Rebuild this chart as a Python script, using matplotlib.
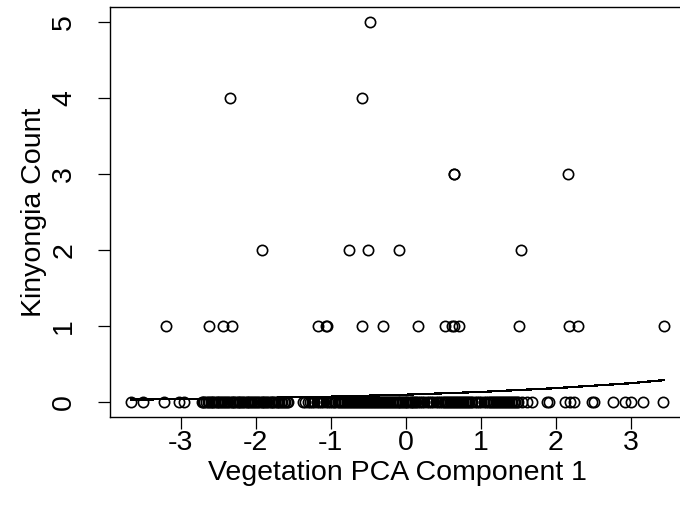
import numpy as np
import matplotlib
matplotlib.use("Agg")
import matplotlib.pyplot as plt

# Vegetation PCA component 1 scores, grouped by observed Kinyongia count
pc1_count0 = [
    -3.66, -3.51, -3.22, -3.02, -2.96,
    -2.72, -2.70, -2.69, -2.66, -2.64, -2.63, -2.60, -2.58, -2.57, -2.55,
    -2.52, -2.51, -2.49, -2.46, -2.45, -2.43, -2.41, -2.38, -2.37, -2.35,
    -2.32, -2.31, -2.29, -2.27, -2.24, -2.23, -2.21, -2.18, -2.17, -2.15,
    -2.12, -2.11, -2.09, -2.06, -2.05, -2.03, -2.01, -1.98, -1.97, -1.95,
    -1.92, -1.91, -1.89, -1.86, -1.85, -1.83, -1.80, -1.79, -1.77, -1.75,
    -1.72, -1.71, -1.69, -1.66, -1.65, -1.63, -1.61, -1.59, -1.57,
    -1.37, -1.34, -1.31, -1.28, -1.25, -1.22, -1.19, -1.16, -1.13, -1.10,
    -1.07, -1.04, -1.01, -0.98, -0.96, -0.94, -0.91, -0.89, -0.87, -0.85,
    -0.83, -0.81, -0.79, -0.77, -0.745, -0.73, -0.71, -0.69, -0.67, -0.655,
    -0.63, -0.61, -0.59, -0.57, -0.55, -0.535, -0.51, -0.49, -0.47, -0.45,
    -0.43, -0.415, -0.39, -0.37, -0.35, -0.33, -0.31, -0.295, -0.27, -0.25,
    -0.23, -0.21, -0.19, -0.175, -0.15, -0.13, -0.11, -0.09, -0.07, -0.055,
    -0.03, -0.01, 0.01, 0.02, 0.04, 0.065, 0.08, 0.10, 0.12, 0.14,
    0.16, 0.19, 0.22, 0.25, 0.28, 0.31, 0.34, 0.37, 0.40, 0.43,
    0.46, 0.49, 0.51, 0.53, 0.555, 0.57, 0.59, 0.61, 0.63, 0.645,
    0.67, 0.69, 0.71, 0.73, 0.75, 0.765, 0.79, 0.81, 0.83, 0.85,
    0.87, 0.89, 0.92, 0.95, 0.98, 1.01, 1.04, 1.07, 1.10, 1.12,
    1.14, 1.16, 1.18, 1.205, 1.22, 1.24, 1.26, 1.28, 1.30, 1.325,
    1.34, 1.36, 1.38, 1.40, 1.42, 1.445, 1.46, 1.48, 1.50,
    1.55, 1.62, 1.68, 1.89, 1.91, 2.12, 2.19, 2.25, 2.49, 2.51,
    2.76, 2.92, 3.01, 3.16, 3.43]
pc1_count1 = [-3.20, -2.63, -2.44, -2.32, -1.17, -1.07, -1.05, -0.58, -0.30,
              0.16, 0.52, 0.62, 0.64, 0.71, 1.51, 2.18, 2.30, 3.44]
pc1_count2 = [-1.92, -0.76, -0.50, -0.09, 1.54]
pc1_count3 = [0.64, 0.65, 2.17]
pc1_count4 = [-2.34, -0.58]
pc1_count5 = [-0.48]

# fitted mean count along PC1
fit_x = [-3.66, -3.0, -2.0, -1.0, 0.0, 1.0, 2.0, 3.0, 3.44]
fit_y = [0.029, 0.036, 0.050, 0.068, 0.094, 0.130, 0.180, 0.245, 0.285]

groups = [pc1_count0, pc1_count1, pc1_count2, pc1_count3, pc1_count4, pc1_count5]
pc1 = np.concatenate([np.array(g) for g in groups])
count = np.concatenate([np.full(len(g), k) for k, g in enumerate(groups)])

plt.rcParams['font.family'] = ['Liberation Sans', 'DejaVu Sans']
plt.rcParams['axes.unicode_minus'] = False

fig = plt.figure(figsize=(6.8, 5.25), dpi=100)
ax = fig.add_axes([110 / 680, (525 - 417) / 525, 575 / 680, 410 / 525])

ax.plot(pc1, count, linestyle='none', marker='o', markersize=7.4,
        markerfacecolor='none', markeredgecolor='black', markeredgewidth=1.2)
ax.plot(fit_x, fit_y, color='black', linewidth=0.9, antialiased=False)

# R style: 4% padding around the data range
xr = pc1.max() - pc1.min()
ax.set_xlim(pc1.min() - 0.04 * xr, pc1.max() + 0.04 * xr)
ax.set_ylim(-0.2, 5.2)

ax.set_xticks([-3, -2, -1, 0, 1, 2, 3])
ax.set_yticks([0, 1, 2, 3, 4, 5])
ax.set_yticklabels(['0', '1', '2', '3', '4', '5'], rotation=90, va='center')

ax.tick_params(axis='both', direction='out', length=8.6, width=0.9,
               labelsize=20.5, colors='black')
ax.tick_params(axis='x', pad=1)
ax.tick_params(axis='y', pad=15)

for s in ax.spines.values():
    s.set_linewidth(1.0)
    s.set_color('black')

ax.set_xlabel('Vegetation PCA Component 1', fontsize=20.5, labelpad=2.5)
ax.set_ylabel('Kinyongia Count', fontsize=20.5, labelpad=3)

fig.savefig('out.png', dpi=100)
